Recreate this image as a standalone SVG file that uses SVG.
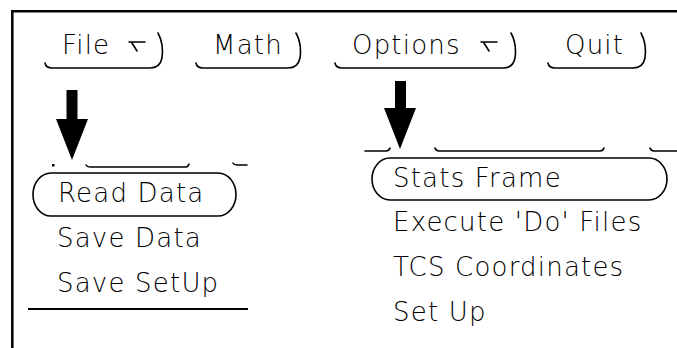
<svg xmlns="http://www.w3.org/2000/svg" width="677" height="348" viewBox="0 0 677 348">
<style>
.t{font-family:"DejaVu Sans","Liberation Sans",sans-serif;font-size:26px;letter-spacing:1.2px;fill:#000;font-weight:200}
.ln{fill:none;stroke:#000;stroke-width:1.6;stroke-linecap:round;stroke-linejoin:round}
.thick{fill:none;stroke:#000;stroke-width:2.5}
.arr{fill:#000;stroke:none}
</style>
<rect width="677" height="348" fill="#fff"/>
<path class="thick" d="M12.3,348 V11.3 H677"/>
<g id="btn-file">
<path class="ln" d="M45,63 Q46,68 52,68 H150 Q160,68 162,58 Q164,44 158,33"/>
<text class="t" x="62" y="54">File</text>
<path class="ln" d="M129,42 H145 M132,43 L137,51"/>
</g>
<g id="btn-math">
<path class="ln" d="M196,63 Q197,68 203,68 H288 Q298,68 300,58 Q302,44 296,33"/>
<text class="t" x="213" y="54">Math</text>
</g>
<g id="btn-options">
<path class="ln" d="M335,63 Q336,68 342,68 H503 Q513,68 515,58 Q517,44 511,33"/>
<text class="t" x="352" y="54">Options</text>
<path class="ln" d="M481,42 H497 M484,43 L489,51"/>
</g>
<g id="btn-quit">
<path class="ln" d="M548,63 Q549,68 555,68 H633 Q643,68 645,58 Q647,44 641,33"/>
<text class="t" x="565" y="54">Quit</text>
</g>
<g id="menu-file">
<rect x="52" y="164" width="2.5" height="2.5" fill="#000"/>
<path class="ln" d="M86,165 Q87,167 90,167 H186 Q188,167 189,164"/>
<path class="ln" d="M233,163 Q234,165 237,165 H247"/>
<g id="item-read-data">
<rect class="ln" x="33" y="173" width="203" height="43" rx="18" ry="21.5"/>
<text class="t" x="58" y="202">Read Data</text>
</g>
<text class="t" x="57" y="247">Save Data</text>
<text class="t" x="57" y="292">Save SetUp</text>
<line x1="28" y1="309" x2="248" y2="309" stroke="#000" stroke-width="2"/>
</g>
<g id="menu-options">
<path class="ln" d="M365,151 H386 Q389,151 390,148"/>
<path class="ln" d="M435,148 Q436,151 439,151 H600 Q603,151 604,148"/>
<path class="ln" d="M650,148 Q651,151 654,151 H677"/>
<g id="item-stats-frame">
<rect class="ln" x="372" y="158" width="295" height="42" rx="18" ry="21"/>
<text class="t" x="393" y="187">Stats Frame</text>
</g>
<text class="t" x="393" y="231">Execute 'Do' Files</text>
<text class="t" x="393" y="276">TCS Coordinates</text>
<text class="t" x="393" y="321">Set Up</text>
</g>
<g id="connectors">
<path class="arr" d="M66.5,90 H77.5 V119 H88 L72,160 L56,119 H66.5 Z"/>
<path class="arr" d="M395,81 H406 V108 H416 L400,149 L384,108 H395 Z"/>
</g>
</svg>
